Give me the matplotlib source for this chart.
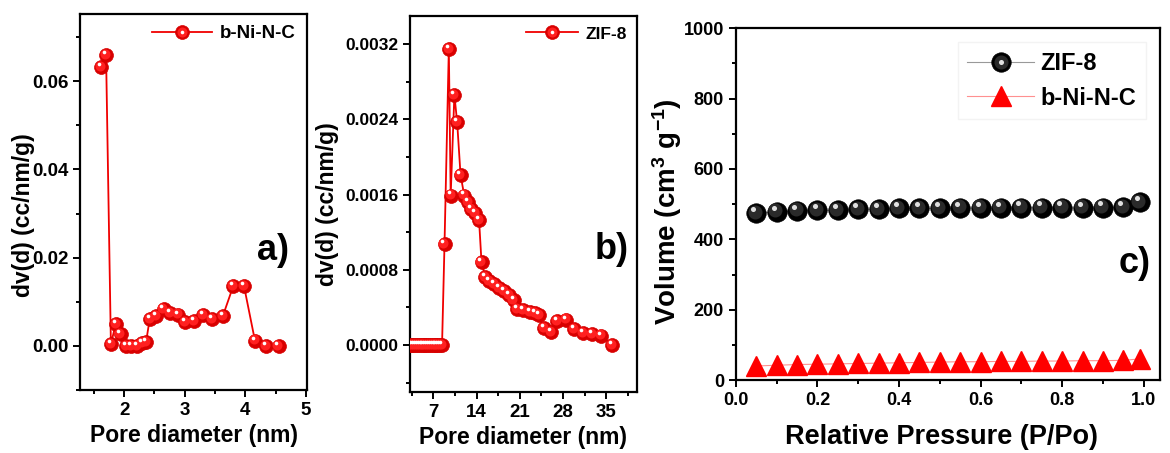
import matplotlib
matplotlib.use('Agg')
import matplotlib.pyplot as plt
from matplotlib.transforms import offset_copy
from matplotlib.ticker import MultipleLocator, FormatStrFormatter
from matplotlib.legend_handler import HandlerTuple

plt.rcParams['font.family'] = ['Liberation Sans', 'DejaVu Sans']
plt.rcParams['font.weight'] = 'bold'
plt.rcParams['axes.labelweight'] = 'bold'
plt.rcParams['mathtext.fontset'] = 'custom'
plt.rcParams['mathtext.bf'] = 'Liberation Sans:bold'
plt.rcParams['mathtext.rm'] = 'Liberation Sans:bold'
plt.rcParams['mathtext.default'] = 'bf'

# a) pore size distribution of b-Ni-N-C
ni_pore = [1.62, 1.70, 1.78, 1.86, 1.94, 2.03, 2.12, 2.21, 2.30, 2.36, 2.42, 2.53,
           2.65, 2.76, 2.89, 3.01, 3.16, 3.30, 3.45, 3.63, 3.80, 3.98, 4.16, 4.35, 4.55]
ni_dvd = [0.0632, 0.0660, 0.0004, 0.0050, 0.0026, 0.0000, 0.0000, 0.0000, 0.0007, 0.0008,
          0.0060, 0.0067, 0.0083, 0.0075, 0.0071, 0.0055, 0.0056, 0.0069, 0.0061, 0.0068,
          0.0135, 0.0135, 0.0012, 0.0000, 0.0000]

# b) pore size distribution of ZIF-8
zif_pore = [3.3, 3.6, 3.9, 4.2, 4.5, 4.8, 5.1, 5.4, 5.7, 6.0, 6.3, 6.6, 6.9, 7.2, 7.5,
            7.8, 8.1, 8.4, 8.8, 9.5, 9.8, 10.4, 10.85, 11.4, 12.0, 12.6, 13.1, 13.7, 14.4,
            14.8, 15.4, 16.0, 16.8, 17.6, 18.4, 19.2, 20.0, 20.6, 21.6, 22.6, 23.5, 24.1,
            24.9, 26.1, 27.0, 28.5, 29.8, 31.2, 32.7, 34.2, 36.0]
zif_dvd = [0.0, 0.0, 0.0, 0.0, 0.0, 0.0, 0.0, 0.0, 0.0, 0.0, 0.0, 0.0, 0.0, 0.0, 0.0,
           0.0, 0.0, 0.0, 0.00107, 0.00315, 0.00159, 0.00266, 0.00237, 0.00181, 0.00159,
           0.00152, 0.00145, 0.00140, 0.00133, 0.00088, 0.00072, 0.00068, 0.00065, 0.00061,
           0.00057, 0.00053, 0.00048, 0.00038, 0.00037, 0.00035, 0.00034, 0.00032, 0.00018,
           0.00014, 0.00025, 0.00027, 0.00017, 0.00013, 0.00012, 0.00010, 0.0]

# c) N2 isotherms
rel_p = [0.05, 0.10, 0.15, 0.20, 0.25, 0.30, 0.35, 0.40, 0.45, 0.50, 0.55, 0.60, 0.65,
         0.70, 0.75, 0.80, 0.85, 0.90, 0.95, 0.99]
vol_zif = [474, 478, 481, 482, 483, 485, 486, 488, 488, 488, 489, 489, 489, 490, 490,
           490, 489, 490, 491, 505]
vol_ni = [40, 42, 44, 45, 46, 47, 48, 49, 50, 51, 52, 52, 53, 53, 54, 54, 55, 55, 56, 60]

fig = plt.figure(figsize=(11.7, 4.53), dpi=100)
ax_a = fig.add_axes([0.0684, 0.139, 0.194, 0.830])
ax_b = fig.add_axes([0.3504, 0.1347, 0.194, 0.830])
ax_c = fig.add_axes([0.629, 0.1611, 0.3625, 0.7764])


def ball_line(ax, x, y, dark, mid, glint, ms, lc, lw=1.3):
    # shaded "sphere" markers: dark base, lighter offset core, small glint
    line, = ax.plot(x, y, '-o', color=lc, lw=lw, ms=ms, mfc=dark,
                    mec=dark, mew=0.5, zorder=3)
    shift_mid = offset_copy(ax.transData, fig=fig, x=-ms * 0.08, y=ms * 0.08, units='points')
    ax.plot(x, y, 'o', ms=ms * 0.72, mfc=mid, mec='none', transform=shift_mid, zorder=4)
    shift_gl = offset_copy(ax.transData, fig=fig, x=-ms * 0.15, y=ms * 0.22, units='points')
    ax.plot(x, y, 'o', ms=ms * 0.26, mfc=glint, mec='none', transform=shift_gl, zorder=5)
    h_mid, = ax.plot([], [], 'o', ms=ms * 0.72, mfc=mid, mec='none')
    h_gl, = ax.plot([], [], 'o', ms=ms * 0.26, mfc=glint, mec='none')
    return (line, h_mid, h_gl)


def style(ax):
    for s in ax.spines.values():
        s.set_linewidth(1.6)
    ax.tick_params(which='both', direction='out', width=1.4, top=False, right=False)
    ax.tick_params(which='major', length=5)
    ax.tick_params(which='minor', length=3)


tuple_map = {tuple: HandlerTuple(ndivide=1)}

h_a = ball_line(ax_a, ni_pore, ni_dvd, '#d80000', '#ff2020', 'white', 10, '#f00000')
ax_a.set_xlim(1.27, 5.02)
ax_a.set_ylim(-0.01, 0.0752)
ax_a.xaxis.set_major_locator(MultipleLocator(1))
ax_a.xaxis.set_minor_locator(MultipleLocator(0.5))
ax_a.yaxis.set_major_locator(MultipleLocator(0.02))
ax_a.yaxis.set_minor_locator(MultipleLocator(0.01))
ax_a.yaxis.set_major_formatter(FormatStrFormatter('%.2f'))
ax_a.set_xlabel('Pore diameter (nm)', fontsize=16.5)
ax_a.set_ylabel('dv(d) (cc/nm/g)', fontsize=16.5)
ax_a.yaxis.set_label_coords(-0.20, 0.465)
ax_a.legend([h_a], ['b-Ni-N-C'], handler_map=tuple_map,
            loc='upper right', frameon=False, fontsize=13.5, handlelength=3.2,
            borderaxespad=0.2, handletextpad=0.4)
ax_a.text(0.85, 0.37, 'a)', transform=ax_a.transAxes, fontsize=26,
          ha='center', va='center')

h_b = ball_line(ax_b, zif_pore, zif_dvd, '#d80000', '#ff2020', 'white', 10, '#f00000')
ax_b.set_xlim(3.2, 40.0)
ax_b.set_ylim(-0.0005, 0.0035)
ax_b.xaxis.set_major_locator(MultipleLocator(7))
ax_b.xaxis.set_minor_locator(MultipleLocator(3.5))
ax_b.yaxis.set_major_locator(MultipleLocator(0.0008))
ax_b.yaxis.set_minor_locator(MultipleLocator(0.0004))
ax_b.yaxis.set_major_formatter(FormatStrFormatter('%.4f'))
ax_b.set_xlabel('Pore diameter (nm)', fontsize=16.5)
ax_b.set_ylabel('dv(d) (cc/nm/g)', fontsize=16.5)
ax_b.legend([h_b], ['ZIF-8'], handler_map=tuple_map,
            loc='upper right', frameon=False, fontsize=12.5, handlelength=3.0,
            borderaxespad=0.2, handletextpad=0.4)
ax_b.text(0.89, 0.38, 'b)', transform=ax_b.transAxes, fontsize=26,
          ha='center', va='center')

h_c1 = ball_line(ax_c, rel_p, vol_zif, '#000000', '#2a2a2a', '#e0e0e0', 14, '#999999', lw=0.8)
h_c2, = ax_c.plot(rel_p, vol_ni, '-^', color='#ff9090', lw=0.8, ms=15, mfc='#ff0000',
                  mec='#ff0000', zorder=3)
ax_c.set_xlim(0.0, 1.04)
ax_c.set_ylim(0, 1000)
ax_c.xaxis.set_major_locator(MultipleLocator(0.2))
ax_c.xaxis.set_minor_locator(MultipleLocator(0.1))
ax_c.yaxis.set_major_locator(MultipleLocator(200))
ax_c.yaxis.set_minor_locator(MultipleLocator(100))
ax_c.xaxis.set_major_formatter(FormatStrFormatter('%.1f'))
ax_c.set_xlabel('Relative Pressure (P/Po)', fontsize=19.5)
ax_c.set_ylabel('Volume (cm$^{3}$ g$^{-1}$)', fontsize=20)
ax_c.xaxis.set_label_coords(0.485, -0.125)
ax_c.yaxis.set_label_coords(-0.122, 0.48)
ax_c.legend([h_c1, h_c2], ['ZIF-8', 'b-Ni-N-C'], handler_map=tuple_map,
            loc='upper right', fontsize=17, handlelength=2.8, handletextpad=0.3,
            frameon=True, fancybox=False, edgecolor='#f0f0f0', borderaxespad=0.6)
ax_c.text(0.94, 0.33, 'c)', transform=ax_c.transAxes, fontsize=26,
          ha='center', va='center')

style(ax_a)
ax_a.tick_params(which='major', labelsize=13.5)
style(ax_b)
ax_b.tick_params(axis='y', which='major', labelsize=12.5)
ax_b.tick_params(axis='x', which='major', labelsize=13.5)
style(ax_c)
ax_c.tick_params(which='major', labelsize=13)

fig.savefig('out.png', dpi=100)
